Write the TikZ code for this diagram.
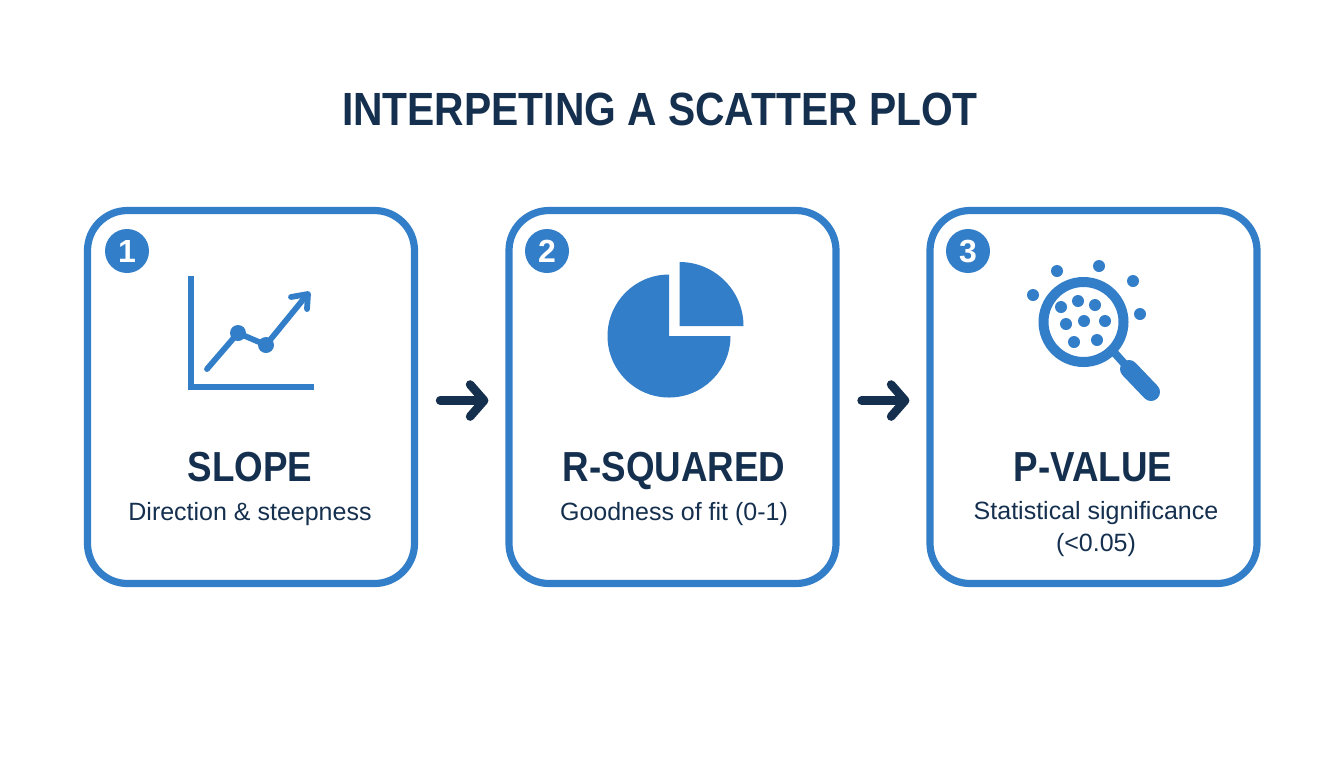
\documentclass[tikz,border=0pt]{standalone}
\usepackage{fontspec}
\setmainfont{Liberation Sans}
\newfontfamily\nar[FakeStretch=0.875]{Liberation Sans}
\usetikzlibrary{arrows.meta}
\definecolor{blu}{HTML}{337EC8}
\definecolor{nav}{HTML}{15304F}
\tikzset{%
    card/.style={rectangle, draw=blu, line width=3.6pt, rounded corners=20pt, minimum width=163.5pt, minimum height=186.5pt, inner sep=0pt},
    num/.style={circle, fill=blu, text=white, minimum size=22pt, inner sep=0pt, font=\bfseries\fontsize{16}{16}\selectfont},
    ttl/.style={text=nav, inner sep=0pt, anchor=base, font=\nar\bfseries\fontsize{23.3}{24}\selectfont},
    hed/.style={text=nav, inner sep=0pt, anchor=base, font=\nar\bfseries\fontsize{21}{21}\selectfont},
    sub/.style={text=nav, inner sep=0pt, anchor=base, align=center, font=\fontsize{12.5}{16}\selectfont},
    ico/.style={draw=blu, line width=2.9pt, line cap=round, line join=round},
    nxt/.style={draw=nav, line width=4.3pt, line cap=round, -{Straight Barb[round, length=7pt, width=16pt]}},
}
\begin{document}
\begin{tikzpicture}[x=0.5pt, y=-0.5pt]
    \useasboundingbox (0,0) rectangle (1344,768);
    \fill [white] (0,0) rectangle (1344,768);
    \draw node [ttl] (t) at (660,125) {INTERPETING A SCATTER PLOT};
    \draw node [card] (a) at (251,397) {};
    \draw node [card] (b) at (672.5,397) {};
    \draw node [card] (c) at (1093.5,397) {};
    \draw node [num] (a1) at (127,251) {1};
    \draw node [num] (b1) at (547,251) {2};
    \draw node [num] (c1) at (968,251) {3};
    \draw node [hed] (a2) at (250,481) {SLOPE};
    \draw node [hed] (b2) at (674,481) {R-SQUARED};
    \draw node [hed] (c2) at (1093,481) {P-VALUE};
    \draw node [sub] (a3) at (250,520) {Direction \& steepness};
    \draw node [sub] (b3) at (674,520) {Goodness of fit (0-1)};
    \draw node [sub] (c3) at (1096,551) {Statistical significance\\(<0.05)};
    \draw [nxt, shorten <=11pt, shorten >=8.5pt] ([yshift=-1.75pt]a.east) -- ([yshift=-1.75pt]b.west);
    \draw [nxt, shorten <=11pt, shorten >=8.5pt] ([yshift=-1.75pt]b.east) -- ([yshift=-1.75pt]c.west);
    % slope icon
    \draw [ico, line cap=butt, line join=miter] (191,276) -- (191,387) -- (314,387);
    \draw [ico] (207,369) -- (238,333) -- (266,345) -- (306,296);
    \draw [ico] (291,297) -- (308,294) -- (307,309);
    \fill [blu] (238,333) circle (8) (266,345) circle (8);
    % pie icon
    \fill [blu] (669,336) -- (669,274.5) arc [start angle=90, end angle=360, x radius=61.5, y radius=-61.5] -- cycle;
    \fill [blu] (679.5,326) -- (679.5,262) arc [start angle=90, end angle=0, x radius=64, y radius=-64] -- cycle;
    % lens icon
    \draw [blu, line width=5pt] (1083.5,322) circle (40);
    \draw [blu, line width=4pt] (1112,350) -- (1130,370);
    \draw [blu, line width=9pt, line cap=round] (1129,369) -- (1151,392);
    \foreach \x/\y in {1057/271, 1099/266, 1133/281, 1033/295, 1140/314, 1061/307, 1078/301, 1095/305, 1066/324, 1084/321, 1105/321, 1074/342, 1097/340}
        \fill [blu] (\x,\y) circle (6);
\end{tikzpicture}
\end{document}
